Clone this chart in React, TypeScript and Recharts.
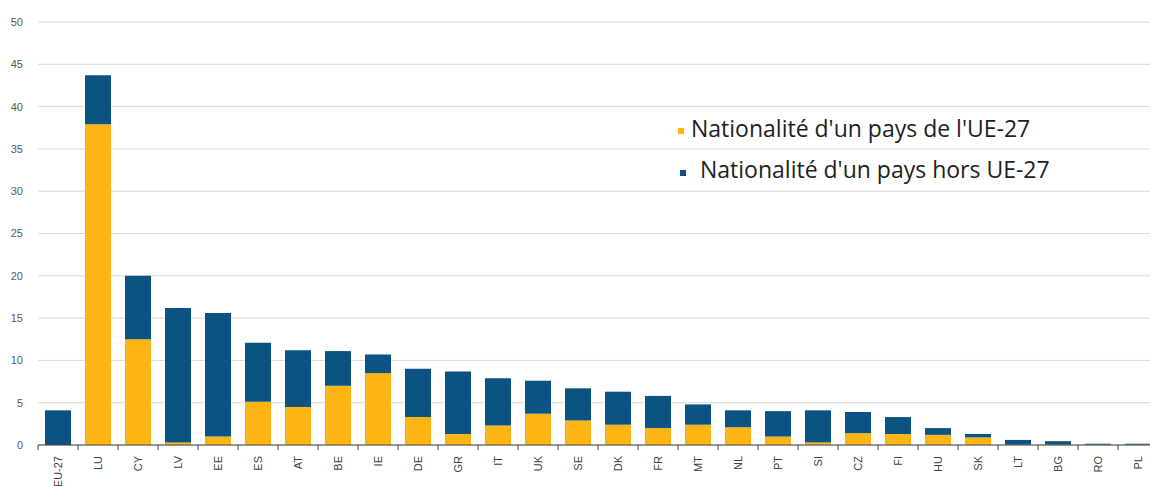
import React from 'react';
import { BarChart, Bar, XAxis, YAxis, CartesianGrid, Legend } from 'recharts';

const categories = ['EU-27','LU','CY','LV','EE','ES','AT','BE','IE','DE','GR','IT','UK','SE','DK','FR','MT','NL','PT','SI','CZ','FI','HU','SK','LT','BG','RO','PL'];
const euValues = [0, 37.9, 12.5, 0.3, 1.0, 5.1, 4.5, 7.0, 8.5, 3.3, 1.3, 2.3, 3.7, 2.9, 2.4, 2.0, 2.4, 2.1, 1.0, 0.3, 1.4, 1.3, 1.2, 0.9, 0.05, 0.05, 0.05, 0.05];
const nonEuValues = [4.1, 5.8, 7.5, 15.9, 14.6, 7.0, 6.7, 4.1, 2.2, 5.7, 7.4, 5.6, 3.9, 3.8, 3.9, 3.8, 2.4, 2.0, 3.0, 3.8, 2.5, 2.0, 0.8, 0.4, 0.55, 0.4, 0.1, 0.1];
const yTicks = [0, 5, 10, 15, 20, 25, 30, 35, 40, 45, 50];
const seriesNames = ["Nationalité d'un pays de l'UE-27", "Nationalité d'un pays hors UE-27"];

const YELLOW = '#FDB515';
const BLUE = '#0A5383';

const data = categories.map((c, i) => ({ country: c, eu: euValues[i], nonEu: nonEuValues[i] }));

const XTick = (props: any) => {
  const { x, y, payload } = props;
  return (
    <g>
      <line x1={x - 20} y1={y} x2={x - 20} y2={y + 5} stroke="#404040" strokeWidth={1} />
      <text
        x={0}
        y={0}
        transform={`translate(${x},${y + 11}) rotate(-90)`}
        textAnchor="end"
        dominantBaseline="central"
        fontSize={11}
        fill="#404040"
        fontFamily="'Liberation Sans', Arial, sans-serif"
      >
        {payload.value}
      </text>
    </g>
  );
};

const legendPos = [
  { mx: 678, my: 128, tx: 691, ty: 117 },
  { mx: 680, my: 170, tx: 700, ty: 158 },
];

const renderLegend = (props: any) => {
  const { payload } = props;
  return (
    <div style={{ position: 'relative', width: 0, height: 0 }}>
      {(payload || []).map((entry: any, i: number) => {
        const p = legendPos[i];
        return (
          <React.Fragment key={i}>
            <div style={{ position: 'absolute', left: p.mx, top: p.my, width: 6, height: 6, background: entry.color }} />
            <div
              style={{
                position: 'absolute',
                left: p.tx,
                top: p.ty,
                whiteSpace: 'nowrap',
                fontFamily: "'Open Sans', sans-serif",
                fontSize: 23,
                lineHeight: '23px',
                color: '#1e1e1e',
              }}
            >
              {entry.value}
            </div>
          </React.Fragment>
        );
      })}
    </div>
  );
};

export default function App() {
  return (
    <div style={{ position: 'absolute', left: 0, top: 0, width: 1150, height: 486, overflow: 'hidden', background: '#fff' }}>
      <BarChart width={1158} height={486} data={data} margin={{ top: 22, right: 0, bottom: 0, left: 0 }} barSize={26}>
        <CartesianGrid vertical={false} stroke="#d9d9d9" strokeWidth={1} />
        <XAxis
          dataKey="country"
          interval={0}
          height={41}
          tickSize={0}
          tickMargin={0}
          tickLine={false}
          axisLine={{ stroke: '#404040', strokeWidth: 1 }}
          tick={<XTick />}
        />
        <YAxis
          width={38}
          domain={[0, 50]}
          ticks={yTicks}
          tickSize={0}
          tickMargin={15}
          axisLine={false}
          tickLine={false}
          tick={{ fontSize: 11, fill: '#595959', fontFamily: "'Liberation Sans', Arial, sans-serif" }}
        />
        <Legend
          content={renderLegend}
          wrapperStyle={{ position: 'absolute', left: 0, top: 0, width: 0, height: 0 }}
        />
        <Bar dataKey="eu" name={seriesNames[0]} stackId="a" fill={YELLOW} isAnimationActive={false} />
        <Bar dataKey="nonEu" name={seriesNames[1]} stackId="a" fill={BLUE} isAnimationActive={false} />
      </BarChart>
    </div>
  );
}
